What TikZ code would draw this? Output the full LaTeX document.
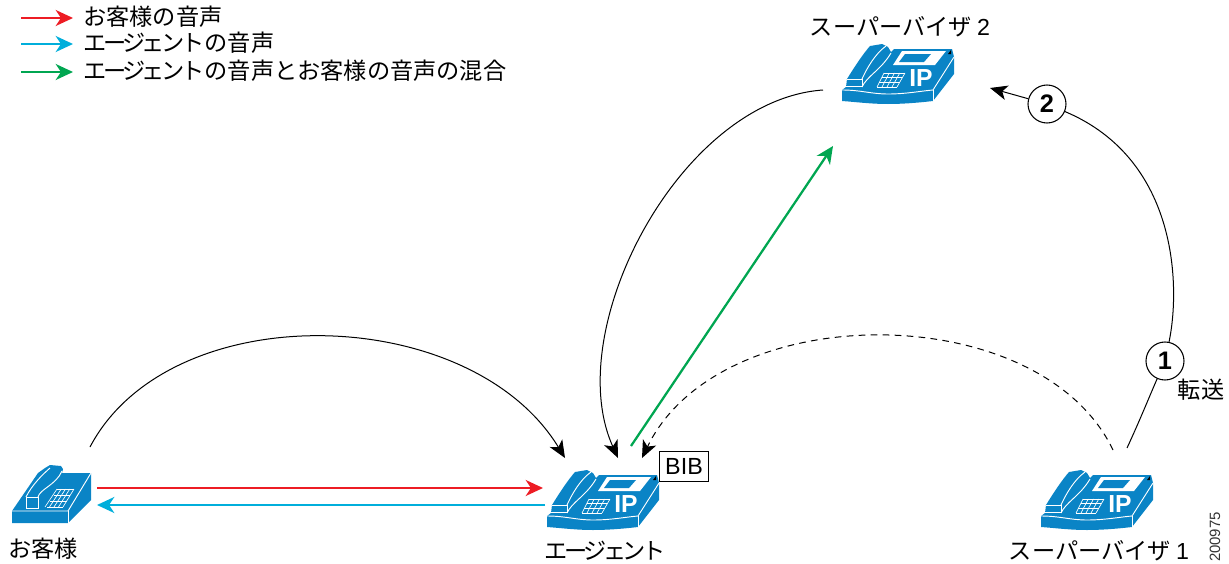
\documentclass[tikz,border=0pt]{standalone}
\usepackage{fontspec}
\setmainfont{Liberation Sans}
\newfontfamily\cjk{Noto Sans CJK JP}
\newfontfamily\cjktight[LetterSpace=-15]{Noto Sans CJK JP}
\usetikzlibrary{arrows.meta,positioning}
\definecolor{phoneblue}{HTML}{0A84C6}
\definecolor{custred}{HTML}{ED1C24}
\definecolor{agentblue}{HTML}{00AEDB}
\definecolor{mixgreen}{HTML}{00A651}
\tikzset{
  label/.style={inner sep=0pt,font=\fontsize{17.4pt}{20pt}\selectfont\cjk},
  call/.style={-{Stealth[length=13pt,width=11pt,inset=3.5pt]},line width=0.75pt,black},
  voice/.style={-{Stealth[length=13pt,width=12pt,inset=4pt]},line width=1.7pt},
  stepnum/.style={circle,draw,fill=white,line width=0.8pt,minimum size=28.5pt,inner sep=0pt,font=\fontsize{19pt}{19pt}\selectfont\bfseries},
  ipphone/.pic={
    \fill[phoneblue] (1,46) -- (5,43) -- (6,35) .. controls (14,22) and (22,10) .. (29,2) -- (41,0) -- (47,3) -- (50,8) -- (53,5) -- (111,5) -- (113,13) -- (113,30) -- (92,57) .. controls (75,59) and (60,60) .. (47,60) .. controls (30,60) and (15,58) .. (1,57) -- cycle;
    \draw[white,line width=0.7pt] (1,46) .. controls (20,46) and (30,50) .. (47,50) .. controls (65,50) and (80,47) .. (92,46) -- (113,13);
    \draw[white,line width=0.7pt] (92,46) -- (92,57);
    \draw[white,line width=0.7pt] (6,35) -- (21,35) -- (21,42) -- (5,42);
    \draw[white,line width=0.7pt] (21,35) .. controls (26,24) and (34,10) .. (45,2);
    \draw[white,line width=0.7pt] (21,43) .. controls (26,32) and (40,26) .. (50,9);
    \fill[white] (61,7) -- (105,7) -- (94,21) -- (52,21) -- cycle;
    \fill[phoneblue] (64,10) -- (90,10) -- (83,18) -- (58,18) -- cycle;
    \fill[black] (107,10) -- (110,6) -- (110,10) -- cycle;
    \foreach \i in {0,1,2,3}
      \draw[white,line width=0.5pt] ({43-7*\i/3},{29+14*\i/3}) -- ({64-8*\i/3},{29+14*\i/3});
    \foreach \i in {0,1,2,3,4}
      \draw[white,line width=0.5pt] ({43+21*\i/4},29) -- ({36+20*\i/4},43);
    \node[inner sep=0pt,white,font=\fontsize{18.5pt}{18.5pt}\selectfont\bfseries] (-ip) at (80,34) {IP};
  },
  plainphone/.pic={
    \fill[phoneblue] (0,46) -- (26,8) -- (33,3) -- (38,0) -- (49,1) -- (51,4) -- (50,8) -- (79,8) -- (79,35) -- (56,58) -- (0,58) -- cycle;
    \draw[white,line width=0.7pt] (0,46) -- (56,46) -- (79,8);
    \draw[white,line width=0.7pt] (56,46) -- (56,58);
    \draw[white,line width=0.7pt] (14,32) -- (26,32) -- (26,43) -- (14,43) -- cycle;
    \draw[white,line width=0.7pt] (14,32) .. controls (20,20) and (30,10) .. (38,3);
    \draw[white,line width=0.7pt] (26,32) .. controls (28,24) and (44,20) .. (50,6);
    \foreach \i in {0,1,2,3}
      \draw[white,line width=0.5pt] ({45-12*\i/3+2*\i/3},{24+18*\i/3}) -- ({62-11*\i/3},{24+18*\i/3});
    \foreach \i in {0,1,2,3,4}
      \draw[white,line width=0.5pt] ({45+17*\i/4},24) -- ({33+18*\i/4},42);
  }
}
\begin{document}
\begin{tikzpicture}[x=0.75pt,y=-0.75pt]
  \useasboundingbox (0,0) rectangle (1229,564);
  \pic (Cust_phone) at (12,465) {plainphone};
  \pic (Agent_phone) at (546,470) {ipphone};
  \pic (Sup_1_phone) at (1040,470) {ipphone};
  \pic (Sup_2_phone) at (841,44) {ipphone};
  \node[label] (Cust) at (43,549) {お客様};
  \node[label] (Agent) at (605,551) {\cjktight エージェント};
  \node[label] (Sup_1) at (1099,551) {スーパーバイザ {\fontspec{Liberation Sans}1}};
  \node[label] (Sup_2) at (900,27) {スーパーバイザ {\fontspec{Liberation Sans}2}};
  \node[draw,line width=0.6pt,minimum width=37pt,minimum height=22pt,inner sep=0pt,font=\fontsize{17.5pt}{17.5pt}\selectfont] (BIB) at (684,466.5) {BIB};
  \node[stepnum] (Step_1) at (1165,361) {1};
  \node[stepnum] (Step_2) at (1047,104) {2};
  \node[label] (Transfer) at (1201,390) {転送};
  \node[rotate=90,inner sep=0pt,font=\fontsize{11.2pt}{11.2pt}\selectfont,black!80] (Fig) at (1215,537) {200975};

  \coordinate (C_a) at (90,447);
  \coordinate (C_b) at (97,488);
  \coordinate (C_c) at (97,505);
  \coordinate (A_a) at (565,458);
  \coordinate (A_b) at (618,458);
  \coordinate (A_c) at (631,446);
  \coordinate (A_d) at (642,458);
  \coordinate (A_e) at (543,488);
  \coordinate (A_f) at (545,505);
  \coordinate (S1_a) at (1113,450);
  \coordinate (S1_b) at (1127,448);
  \coordinate (S2_a) at (823,90);
  \coordinate (S2_b) at (990,88);
  \coordinate (S2_c) at (833,146);

  \draw[call] (C_a) .. controls (170,295) and (470,302) .. (A_a);
  \draw[call] (S2_a) .. controls (680,100) and (560,330) .. (A_b);
  \draw[call,dash pattern=on 5pt off 4pt] (S1_a) .. controls (1040,297) and (720,297) .. (A_d);
  \draw[line width=0.75pt] (S1_b) .. controls (1140,420) and (1150,395) .. (Step_1);
  \draw[line width=0.75pt] (Step_1) .. controls (1180,290) and (1180,160) .. (Step_2);
  \draw[call] (Step_2) -- (S2_b);
  \draw[voice,mixgreen] (A_c) -- (S2_c);
  \draw[voice,custred] (C_b) -- (A_e);
  \draw[voice,agentblue] (A_f) -- (C_c);

  \coordinate (L_1a) at (21,18);
  \coordinate (L_1b) at (73,18);
  \coordinate (L_2a) at (21,44);
  \coordinate (L_2b) at (73,44);
  \coordinate (L_3a) at (21,72);
  \coordinate (L_3b) at (73,72);
  \draw[voice,custred] (L_1a) -- (L_1b);
  \draw[voice,agentblue] (L_2a) -- (L_2b);
  \draw[voice,mixgreen] (L_3a) -- (L_3b);
  \node[label,anchor=west] (L_1) at (83,17) {お客様の音声};
  \node[label,anchor=west] (L_2) at (83,43) {{\cjktight エージェント}の音声};
  \node[label,anchor=west] (L_3) at (83,71) {{\cjktight エージェント}の音声とお客様の音声の混合};
\end{tikzpicture}
\end{document}
